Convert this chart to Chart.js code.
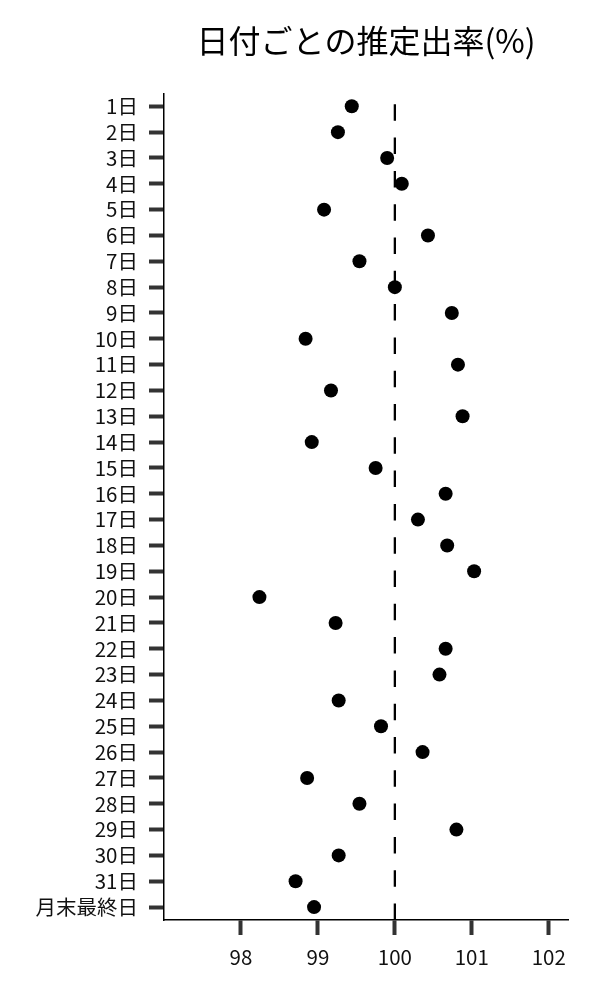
<!DOCTYPE html>
<html><head><meta charset="utf-8">
<script src="https://cdn.jsdelivr.net/npm/chart.js@4/dist/chart.umd.min.js"></script>
<style>html,body{margin:0;padding:0;background:#fff}</style>
</head><body>
<canvas id="c" width="600" height="1000"></canvas>
<script>
const categories = ['1日','2日','3日','4日','5日','6日','7日','8日','9日','10日','11日','12日','13日','14日','15日','16日','17日','18日','19日','20日','21日','22日','23日','24日','25日','26日','27日','28日','29日','30日','31日','月末最終日'];
const rates = [99.44,99.26,99.90,100.09,99.08,100.43,99.54,100.00,100.74,98.84,100.82,99.17,100.88,98.92,99.75,100.66,100.30,100.68,101.03,98.24,99.23,100.66,100.58,99.27,99.82,100.36,98.86,99.54,100.80,99.27,98.71,98.95];
const xTicks = [98,99,100,101,102];
const referenceRate = [100];
const titleText = '日付ごとの推定出率(%)';

Chart.defaults.font.family = '"Noto Sans CJK JP", "Noto Sans", sans-serif';
Chart.defaults.color = '#111';

const refLine = {
  id: 'refLine',
  beforeDatasetsDraw(chart) {
    const {ctx, chartArea, scales} = chart;
    ctx.save();
    ctx.strokeStyle = '#000';
    ctx.lineWidth = 2.3;
    ctx.setLineDash([16.5, 16.8]);
    referenceRate.forEach(v => {
      const x = scales.x.getPixelForValue(v);
      ctx.beginPath();
      ctx.moveTo(x, chartArea.bottom);
      ctx.lineTo(x, chartArea.top);
      ctx.stroke();
    });
    ctx.restore();
  }
};

new Chart(document.getElementById('c'), {
  type: 'scatter',
  data: {
    datasets: [{
      data: categories.map((c, i) => ({x: rates[i], y: c})),
      backgroundColor: '#000',
      borderColor: '#000',
      borderWidth: 0,
      pointRadius: 7,
      pointHoverRadius: 7
    }]
  },
  options: {
    responsive: false,
    animation: false,
    layout: {padding: {left: 0, right: 32, top: 0, bottom: 30}},
    plugins: {
      legend: {display: false},
      tooltip: {enabled: false},
      title: {
        display: true,
        text: titleText,
        fullSize: false,
        color: '#000',
        font: {size: 32, weight: 'normal'},
        padding: {top: 22, bottom: 33}
      }
    },
    scales: {
      x: {
        type: 'linear',
        min: 97.0,
        max: 102.25,
        afterBuildTicks: s => { s.ticks = xTicks.map(v => ({value: v})); },
        afterFit: s => { s.height = 50; },
        border: {display: true, color: '#000', width: 1.5},
        grid: {drawOnChartArea: false, drawTicks: true, tickLength: 15, tickWidth: 4, tickColor: '#333'},
        ticks: {padding: 10, font: {size: 20.5}, color: '#111'}
      },
      y: {
        type: 'category',
        labels: categories,
        offset: true,
        afterFit: s => { s.width = 164; },
        border: {display: true, color: '#000', width: 1.5},
        grid: {drawOnChartArea: false, drawTicks: true, tickLength: 15, tickWidth: 4, tickColor: '#333'},
        ticks: {padding: 11, font: {size: 20.5}, color: '#111', autoSkip: false}
      }
    }
  },
  plugins: [refLine]
});
</script>
</body></html>
